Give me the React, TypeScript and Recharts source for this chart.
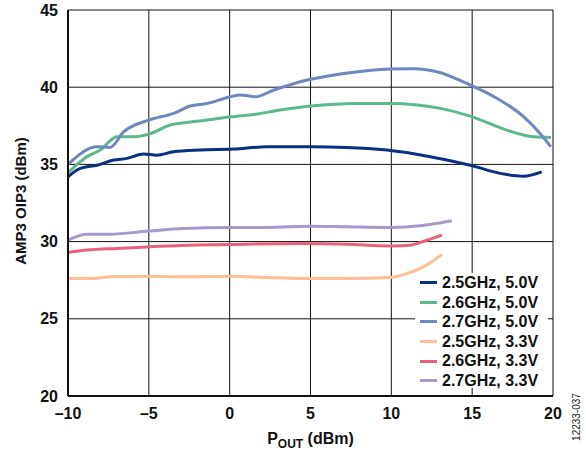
import React from 'react';
import { LineChart, Line, XAxis, YAxis, CartesianGrid } from 'recharts';

const xTicks = [-10, -5, 0, 5, 10, 15, 20];
const yTicks = [20, 25, 30, 35, 40, 45];

const s25_50 = [
  { x: -10, y: 34.2 }, { x: -9.24, y: 34.74 }, { x: -8.2, y: 34.95 }, { x: -7.18, y: 35.28 },
  { x: -6.35, y: 35.39 }, { x: -5.32, y: 35.67 }, { x: -4.5, y: 35.6 }, { x: -3.47, y: 35.82 },
  { x: -1.82, y: 35.93 }, { x: 0.24, y: 35.99 }, { x: 2.3, y: 36.14 }, { x: 5, y: 36.14 },
  { x: 7.25, y: 36.1 }, { x: 9.72, y: 35.93 }, { x: 12.41, y: 35.5 }, { x: 14.88, y: 34.95 },
  { x: 16.74, y: 34.42 }, { x: 18.18, y: 34.24 }, { x: 19.3, y: 34.52 },
];
const s26_50 = [
  { x: -10, y: 34.46 }, { x: -8.83, y: 35.5 }, { x: -8.0, y: 35.93 }, { x: -6.97, y: 36.79 },
  { x: -5.94, y: 36.79 }, { x: -5.0, y: 36.96 }, { x: -3.67, y: 37.55 }, { x: -2.44, y: 37.74 },
  { x: -1.4, y: 37.87 }, { x: 0.04, y: 38.08 }, { x: 1.69, y: 38.26 }, { x: 3.13, y: 38.52 },
  { x: 4.99, y: 38.78 }, { x: 7.87, y: 38.95 }, { x: 9.93, y: 38.95 }, { x: 13.03, y: 38.63 },
  { x: 14.88, y: 38.13 }, { x: 17.14, y: 37.22 }, { x: 18.79, y: 36.79 }, { x: 19.87, y: 36.75 },
];
const s27_50 = [
  { x: -10, y: 35.0 }, { x: -8.2, y: 36.14 }, { x: -7.4, y: 36.1 }, { x: -6.56, y: 37.1 },
  { x: -5.0, y: 37.87 }, { x: -3.47, y: 38.3 }, { x: -2.44, y: 38.78 }, { x: -1.4, y: 38.95 },
  { x: 0.04, y: 39.38 }, { x: 0.65, y: 39.5 }, { x: 1.58, y: 39.38 }, { x: 2.7, y: 39.8 },
  { x: 4.37, y: 40.35 }, { x: 6.84, y: 40.85 }, { x: 8.49, y: 41.07 }, { x: 9.93, y: 41.18 },
  { x: 11.37, y: 41.2 }, { x: 12.82, y: 41.0 }, { x: 14.88, y: 40.14 }, { x: 16.53, y: 39.28 },
  { x: 18.18, y: 38.09 }, { x: 19.2, y: 37.0 }, { x: 19.87, y: 36.14 },
];
const s25_33 = [
  { x: -10, y: 27.61 }, { x: -8.62, y: 27.61 }, { x: -7.4, y: 27.72 }, { x: -5, y: 27.76 },
  { x: -2.85, y: 27.72 }, { x: 0.04, y: 27.76 }, { x: 2.3, y: 27.68 }, { x: 4.37, y: 27.61 },
  { x: 7.25, y: 27.61 }, { x: 9.93, y: 27.68 }, { x: 10.96, y: 27.94 }, { x: 11.99, y: 28.36 },
  { x: 13.13, y: 29.17 },
];
const s26_33 = [
  { x: -10, y: 29.3 }, { x: -8.83, y: 29.45 }, { x: -6.97, y: 29.56 }, { x: -5, y: 29.66 },
  { x: -2.64, y: 29.77 }, { x: 0.04, y: 29.81 }, { x: 4.37, y: 29.88 }, { x: 7.25, y: 29.83 },
  { x: 9.93, y: 29.72 }, { x: 11.17, y: 29.77 }, { x: 12.2, y: 30.09 }, { x: 13.13, y: 30.42 },
];
const s27_33 = [
  { x: -10, y: 30.09 }, { x: -8.83, y: 30.48 }, { x: -7.4, y: 30.48 }, { x: -5, y: 30.68 },
  { x: -2.85, y: 30.85 }, { x: 0.04, y: 30.92 }, { x: 2.3, y: 30.92 }, { x: 5, y: 31.0 },
  { x: 7.25, y: 30.96 }, { x: 9.93, y: 30.92 }, { x: 11.79, y: 31.02 }, { x: 12.82, y: 31.18 },
  { x: 13.74, y: 31.35 },
];

const seriesNames = ['2.5GHz, 5.0V', '2.6GHz, 5.0V', '2.7GHz, 5.0V', '2.5GHz, 3.3V', '2.6GHz, 3.3V', '2.7GHz, 3.3V'];
const seriesData = [s25_50, s26_50, s27_50, s25_33, s26_33, s27_33];
const colors = ['#0B2F82', '#5DB88C', '#6F88BC', '#FDBE98', '#E8627B', '#A898CB'];

const FONT = '"Liberation Sans", Arial, sans-serif';

const LegendBox = () => (
  <div style={{ position: 'absolute', left: 415, top: 273, width: 133, height: 115, background: '#fff', boxSizing: 'border-box', padding: '0 0 0 5px', fontFamily: FONT, fontWeight: 'bold', fontSize: 16, lineHeight: '19.6px', color: '#111' }}>
    {seriesNames.map((n, i) => (
      <div key={n} style={{ display: 'flex', alignItems: 'center', height: 19.6, whiteSpace: 'nowrap' }}>
        <span style={{ display: 'inline-block', width: 17, height: 3, background: colors[i], marginRight: 5 }} />
        <span>{n}</span>
      </div>
    ))}
  </div>
);

const XLabel = (props: any) => {
  const vb = props.viewBox || {};
  const cx = vb.x + vb.width / 2;
  return (
    <text x={cx} y={444} textAnchor="middle" fontFamily={FONT} fontWeight="bold" fontSize={16} fill="#111">
      <tspan>P</tspan>
      <tspan fontSize={12} dy={4}>OUT</tspan>
      <tspan dy={-4}> (dBm)</tspan>
    </text>
  );
};

const YLabel = () => (
  <text x={0} y={0} transform="translate(26 201) rotate(-90)" textAnchor="middle" fontFamily={FONT} fontWeight="bold" fontSize={15} fill="#111">
    AMP3 OIP3 (dBm)
  </text>
);

export default function App() {
  return (
    <div style={{ position: 'absolute', left: 0, top: 0, width: 586, height: 452, background: '#fff' }}>
      <LineChart width={586} height={452} margin={{ top: 10, right: 33, left: 0, bottom: 0 }}>
        <CartesianGrid xAxisId="b" yAxisId="l" stroke="#111" strokeWidth={1} />
        <XAxis
          xAxisId="b"
          type="number"
          dataKey="x"
          domain={[-10, 20]}
          ticks={xTicks}
          allowDataOverflow
          height={56}
          axisLine={{ stroke: '#111', strokeWidth: 2 }}
          tickLine={false}
          tickMargin={6}
          tickFormatter={(v: number) => (v < 0 ? '\u2013' + Math.abs(v) : String(v))}
          tick={{ fontFamily: FONT, fontWeight: 'bold', fontSize: 16, fill: '#111' }}
          label={<XLabel />}
        />
        <XAxis xAxisId="t" orientation="top" type="number" domain={[-10, 20]} height={0} tick={false} tickLine={false} axisLine={{ stroke: '#111', strokeWidth: 2 }} />
        <YAxis
          yAxisId="l"
          type="number"
          domain={[20, 45]}
          ticks={yTicks}
          width={68}
          axisLine={{ stroke: '#111', strokeWidth: 2 }}
          tickLine={false}
          tickMargin={4}
          tick={{ fontFamily: FONT, fontWeight: 'bold', fontSize: 16, fill: '#111' }}
          label={<YLabel />}
        />
        <YAxis yAxisId="r" orientation="right" type="number" domain={[20, 45]} width={0} tick={false} tickLine={false} axisLine={{ stroke: '#111', strokeWidth: 2 }} />
        {seriesData.map((d, i) => (
          <Line
            key={seriesNames[i]}
            xAxisId="b"
            yAxisId="l"
            data={d}
            dataKey="y"
            name={seriesNames[i]}
            type="monotone"
            stroke={colors[i]}
            strokeWidth={3}
            dot={false}
            isAnimationActive={false}
          />
        ))}
        <text x={0} y={0} transform="translate(580 417) rotate(-90)" textAnchor="middle" fontFamily={FONT} fontSize={10} fill="#222">12233-037</text>
      </LineChart>
      <LegendBox />
    </div>
  );
}
